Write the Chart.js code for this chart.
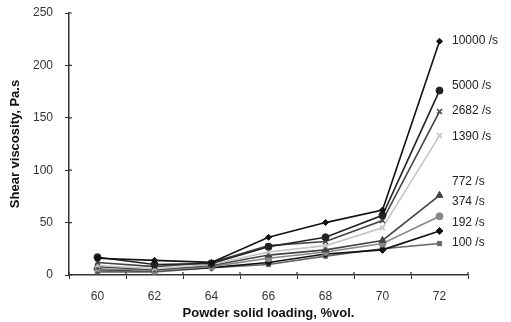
<!DOCTYPE html>
<html lang="en">
<head>
    <meta charset="UTF-8">
    <title>Shear viscosity vs solid loading</title>
    <script src="https://cdn.jsdelivr.net/npm/chart.js"></script>
    <style>
        body { margin: 0; padding: 0; background: #fff; }
        #wrap { width: 511px; height: 322px; }
    </style>
</head>
<body>
    <div id="wrap"><canvas id="chart"></canvas></div>
    <script>
        // Solid loading (%vol.)
        const loadings = ['60', '62', '64', '66', '68', '70', '72'];

        // Shear viscosity (Pa.s) at each shear rate
        const rate10000 = [16, 14, 12, 36, 50, 62, 223];
        const rate5000 = [17, 10, 11, 27, 36, 57, 176];
        const rate2682 = [12, 8, 12, 28, 32, 52, 156];
        const rate1390 = [9, 6, 10, 22, 28, 45, 133];
        const rate772 = [8, 5, 9, 19, 24, 33, 76];
        const rate374 = [6, 4, 8, 16, 22, 30, 56];
        const rate192 = [5, 4, 7, 12, 20, 24, 42];
        const rate100 = [3, 3, 7, 10, 18, 25, 30];

        const seriesNames = ['10000 /s', '5000 /s', '2682 /s', '1390 /s', '772 /s', '374 /s', '192 /s', '100 /s'];
        // where each end label sits, in Pa.s
        const labelValues = [224, 181, 157, 132, 89, 70, 50, 31];
        const yTicks = [0, 50, 100, 150, 200, 250];

        const seriesData = [rate10000, rate5000, rate2682, rate1390, rate772, rate374, rate192, rate100];
        const colors = ['#111', '#222', '#444', '#c4c4c4', '#444', '#888', '#111', '#666'];
        const markers = ['rectRot', 'circle', 'crossRot', 'crossRot', 'triangle', 'circle', 'rectRot', 'rect'];
        const radii = [3, 3.5, 3.5, 3.5, 4, 3.5, 3.5, 3];

        const datasets = seriesData.map((d, i) => ({
            label: seriesNames[i],
            data: d,
            borderColor: colors[i],
            backgroundColor: colors[i],
            borderWidth: 1.6,
            pointStyle: markers[i],
            pointRadius: radii[i],
            pointBorderWidth: markers[i] === 'crossRot' ? 1.5 : 1,
            tension: 0
        }));

        // text labels at the right end of each line
        const endLabels = {
            id: 'endLabels',
            afterDatasetsDraw(chart) {
                const ctx = chart.ctx;
                const y = chart.scales.y;
                ctx.save();
                ctx.font = '12px "Liberation Sans", Arial, sans-serif';
                ctx.fillStyle = '#222';
                ctx.textBaseline = 'middle';
                ctx.textAlign = 'left';
                seriesNames.forEach((name, i) => {
                    ctx.fillText(name, chart.chartArea.right - 16, y.getPixelForValue(labelValues[i]));
                });
                ctx.restore();
            }
        };

        // short tick marks on the inner side of both axes
        const innerTicks = {
            id: 'innerTicks',
            afterDraw(chart) {
                const ctx = chart.ctx;
                const a = chart.chartArea;
                ctx.save();
                ctx.strokeStyle = '#333';
                ctx.lineWidth = 1.2;
                ctx.beginPath();
                chart.scales.y.ticks.forEach(t => {
                    const py = chart.scales.y.getPixelForValue(t.value);
                    ctx.moveTo(a.left, py);
                    ctx.lineTo(a.left + 3, py);
                });
                for (let i = 0; i <= loadings.length; i++) {
                    const px = a.left + (a.right - a.left) * i / loadings.length;
                    ctx.moveTo(px, a.bottom);
                    ctx.lineTo(px, a.bottom - 3);
                }
                ctx.stroke();
                ctx.restore();
            }
        };

        new Chart(document.getElementById('chart'), {
            type: 'line',
            data: { labels: loadings, datasets: datasets },
            plugins: [endLabels, innerTicks],
            options: {
                responsive: true,
                maintainAspectRatio: false,
                animation: false,
                layout: { padding: { top: 13, right: 43, left: 8, bottom: 1 } },
                plugins: { legend: { display: false }, tooltip: { enabled: false } },
                scales: {
                    x: {
                        offset: true,
                        grid: { display: true, drawOnChartArea: false, offset: true, color: '#333', tickLength: 4 },
                        border: { color: '#333', width: 1.5 },
                        ticks: { color: '#333', font: { family: '"Liberation Sans", Arial', size: 12 }, padding: 10 },
                        title: {
                            display: true,
                            text: 'Powder solid loading, %vol.',
                            color: '#111',
                            font: { family: '"Liberation Sans", Arial', size: 13, weight: 'bold' },
                            padding: { top: 2, bottom: 0 }
                        },
                        afterFit(scale) { scale.height = 46; }
                    },
                    y: {
                        min: 0,
                        max: 250,
                        afterBuildTicks(scale) { scale.ticks = yTicks.map(v => ({ value: v })); },
                        grid: { display: true, drawOnChartArea: false, color: '#333', tickLength: 4 },
                        border: { color: '#333', width: 1.5 },
                        ticks: { color: '#333', font: { family: '"Liberation Sans", Arial', size: 12 }, padding: 12 },
                        title: {
                            display: true,
                            text: 'Shear viscosity, Pa.s',
                            color: '#111',
                            font: { family: '"Liberation Sans", Arial', size: 13, weight: 'bold' },
                            padding: { top: 0, bottom: 2 }
                        },
                        afterFit(scale) {
                            scale.width = 61;
                            scale.paddingTop = 0;
                            scale.paddingBottom = 0;
                        }
                    }
                }
            }
        });
    </script>
</body>
</html>
